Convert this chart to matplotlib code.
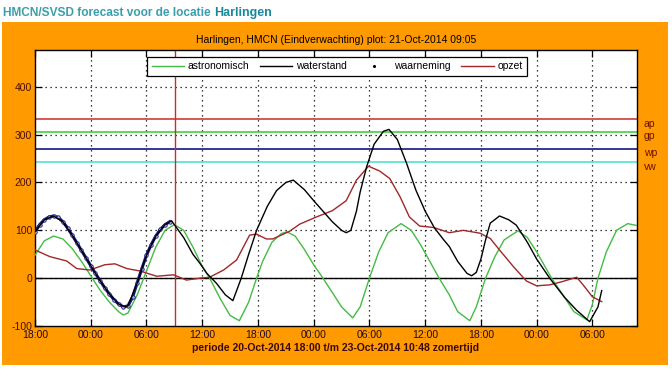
import matplotlib
matplotlib.use("Agg")
import matplotlib.pyplot as plt
from matplotlib.patches import Rectangle
from matplotlib.lines import Line2D

plt.rcParams['font.family'] = ['Liberation Sans', 'DejaVu Sans']

# ---------------- data (hours after 20-Oct-2014 18:00) ----------------
astro_hours = [0, 1, 2, 3, 4, 5, 6, 7, 8, 9, 9.5, 10, 11, 12, 13, 14, 15, 16, 17, 18,
               18.8, 20, 21, 22, 23, 23.85, 24.5, 25.5, 26.5, 27.1, 28, 29, 30, 31, 32,
               33, 34.2, 35, 36, 37, 38, 39.4, 40.5, 41.5, 42.5, 43.5, 44.6, 45.5, 46.8,
               47.5, 48.5, 49.5, 50.5, 52, 53, 54, 55.6, 57, 58, 59.4, 60, 60.6, 61.5,
               62.6, 63.8, 64.8]
astro_values = [48, 78, 88, 82, 62, 35, 5, -25, -50, -70, -77, -73, -35, 15, 65, 100, 112,
                100, 65, 25, 0, -45, -78, -89, -50, 0, 35, 75, 93, 97, 88, 60, 28, 0, -30,
                -60, -83, -60, 0, 55, 95, 114, 100, 70, 35, 0, -35, -70, -89, -60, 0, 45,
                80, 99, 85, 55, 0, -40, -70, -87, -55, 0, 55, 100, 114, 110]

water_hours = [0, 1, 2, 3, 4, 5, 6, 7, 8, 9, 9.7, 10, 11, 12, 13, 14, 14.7, 16, 17, 17.75,
               18.5, 19.5, 20.5, 21.3, 22.2, 23, 23.85, 25, 26, 27, 27.8, 29, 30, 31, 32,
               33, 33.5, 34, 34.6, 35, 35.7, 36.5, 37.5, 38.1, 39, 40, 41, 42, 43, 44,
               44.6, 45.5, 46.5, 47, 47.5, 48, 48.5, 49, 50, 51, 51.8, 53, 54, 55.4, 57,
               58.3, 59.7, 60.6, 61]
water_values = [97, 122, 130, 118, 90, 58, 26, -5, -33, -54, -60, -58, -10, 48, 88, 112,
                120, 85, 50, 31, 10, -10, -35, -47, 0, 50, 100, 150, 183, 200, 205, 185,
                162, 140, 118, 100, 95, 100, 140, 180, 233, 280, 307, 311, 290, 240, 184,
                140, 105, 80, 66, 35, 10, 5, 12, 40, 80, 115, 130, 122, 111, 75, 40, 0,
                -40, -67, -91, -60, -26]

obs_hours = [0, 0.5, 1, 1.5, 2, 2.5, 3, 3.5, 4, 4.5, 5, 5.5, 6, 6.5, 7, 7.5, 8, 8.5, 9,
             9.5, 10, 10.5, 11, 11.5, 12, 12.5, 13, 13.5, 14, 14.5]
obs_values = [97, 112, 122, 128, 130, 127, 118, 105, 90, 74, 58, 42, 26, 10, -5, -20, -33,
              -45, -54, -60, -58, -40, -10, 20, 48, 70, 88, 102, 112, 118]

surge_hours = [0, 1.6, 3.4, 4.5, 5.9, 7.5, 8.6, 9.9, 11.3, 13.1, 14.9, 16.3, 17.75, 18.8,
               20.3, 21.7, 23.1, 23.85, 24.9, 25.6, 27.4, 28.5, 30.3, 32, 33.5, 34.6,
               35.9, 37.1, 38.2, 39.3, 40.3, 41.4, 42.9, 44.6, 46.1, 47.9, 49, 50, 51.5,
               52.9, 54, 55.4, 56.8, 58.3, 59, 60, 61]
surge_values = [59, 45, 36, 20, 17, 28, 30, 20, 15, 4, 7, -4, 0, 2, 17, 38, 90, 92, 82, 82,
                98, 113, 128, 141, 162, 205, 234, 224, 208, 170, 128, 109, 106, 95, 100,
                94, 83, 59, 24, -6, -16, -14, -7, 2, -14, -39, -49]

level_labels = ['ap', 'gp', 'wp', 'vw']
level_values = [332, 306, 271, 242]
level_colors = ['#cc2a2a', '#33cc33', '#000080', '#40e0d0']

plot_time = 15.083  # 21-Oct-2014 09:05
x_ticks = [0, 6, 12, 18, 24, 30, 36, 42, 48, 54, 60]
x_tick_labels = ['18:00', '00:00', '06:00', '12:00', '18:00', '00:00', '06:00',
                 '12:00', '18:00', '00:00', '06:00']
y_ticks = [-100, 0, 100, 200, 300, 400]
x_range = (0, 64.8)
y_range = (-100, 477)

# ---------------- figure ----------------
W, H = 672, 369
fig = plt.figure(figsize=(W / 100, H / 100), dpi=100)
fig.patch.set_facecolor('white')

orange = '#ff9a00'
bg = Rectangle((2 / W, 1 - 365 / H), 666 / W, 343 / H,
               transform=fig.transFigure, facecolor=orange,
               edgecolor='none', zorder=-10)
fig.add_artist(bg)

txtc = '#4a0d00'
t1 = fig.text(3 / W, 1 - 13 / H, 'HMCN/SVSD forecast voor de locatie ',
              fontsize=8.6, fontweight='bold', color='#3a9fab', va='center', ha='left')
fig.canvas.draw()
bb = t1.get_window_extent()
fig.text(bb.x1 / W, 1 - 13 / H, 'Harlingen', fontsize=9, fontweight='bold',
         color='#17899a', va='center', ha='left')

fig.text(0.5, 1 - 40 / H, 'Harlingen, HMCN (Eindverwachting) plot: 21-Oct-2014 09:05',
         fontsize=7.5, color='black', ha='center', va='center')

ax = fig.add_axes([35 / W, 1 - 326 / H, 602 / W, 276 / H])
ax.set_zorder(1)
ax.set_facecolor('white')

grid_style = dict(color='black', linestyle=(0, (1, 3)), linewidth=0.9, zorder=1)
for gx in x_ticks[1:]:
    ax.axvline(gx, **grid_style)
for gy in y_ticks[1:]:
    ax.axhline(gy, **grid_style)

ax.axhline(0, color='black', linewidth=1.0, zorder=2)
for val, col in zip(level_values, level_colors):
    ax.axhline(val, color=col, linewidth=1.1, zorder=2)
ax.axvline(plot_time, color='#cc2a2a', linewidth=1.0, zorder=2)

ax.plot(astro_hours, astro_values, color='#44bb44', linewidth=1.0, zorder=3)
ax.plot(surge_hours, surge_values, color='#a02828', linewidth=1.0, zorder=3)
ax.plot(obs_hours, obs_values, color='#1a1a80', linewidth=2.2, zorder=4,
        marker='o', markersize=2.5, markerfacecolor='#b0b0e0',
        markeredgecolor='#1a1a80', markeredgewidth=0.6)
ax.plot(water_hours, water_values, color='black', linewidth=1.0, zorder=5)

ax.set_xlim(*x_range)
ax.set_ylim(*y_range)
ax.set_xticks(x_ticks)
ax.set_xticklabels(x_tick_labels)
ax.set_yticks(y_ticks)
ax.set_yticklabels([str(v) for v in y_ticks])
ax.tick_params(axis='both', direction='in', length=5, width=0.9, colors='black',
               labelsize=7.5, top=True, right=True, pad=3)
for lab in ax.get_yticklabels():
    lab.set_color(txtc)
for lab in ax.get_xticklabels():
    lab.set_color('#200a20')
ax.tick_params(axis='y', pad=2)
for s in ax.spines.values():
    s.set_color('black')
    s.set_linewidth(1.0)

ax.set_xlabel('periode 20-Oct-2014 18:00 t/m 23-Oct-2014 10:48 zomertijd',
              fontsize=7.5, fontweight='bold', color='#3a0808', labelpad=2)

handles = [Line2D([], [], color='#44bb44', lw=1.0),
           Line2D([], [], color='black', lw=1.0),
           Line2D([], [], color='black', lw=0, marker='.', markersize=2.5),
           Line2D([], [], color='#a02828', lw=1.0)]
leg = ax.legend(handles, ['astronomisch', 'waterstand', 'waarneming', 'opzet'],
                ncol=4, loc='upper left', bbox_to_anchor=((147 - 35) / 602, 1 - 6.5 / 276),
                fontsize=7.5, frameon=True, fancybox=False, framealpha=1,
                edgecolor='black', borderpad=0.45, handlelength=3.1,
                handletextpad=0.35, columnspacing=1.05, borderaxespad=0)
leg.get_frame().set_linewidth(0.9)
leg.set_zorder(10)

for lab, val in zip(level_labels, level_values):
    ax.annotate(lab, xy=(1, val), xycoords=('axes fraction', 'data'),
                xytext=(5, -3), textcoords='offset points', fontsize=7.5,
                color='#6a1000', va='center', ha='left', annotation_clip=False)

fig.savefig('out.png', dpi=100, facecolor=fig.get_facecolor())
